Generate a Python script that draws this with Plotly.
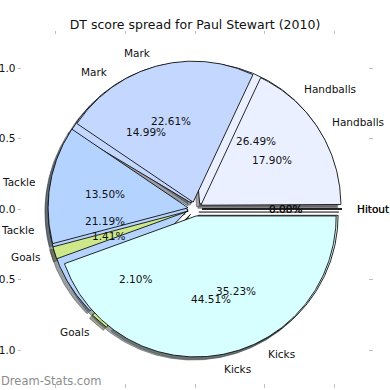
import numpy as np
import plotly.graph_objects as go

# ---- data ----
categories = ['Hitout', 'Handballs', 'Mark', 'Tackle', 'Goals', 'Kicks']
pct_top = [0.08, 17.90, 22.61, 13.50, 1.41, 44.51]      # pie drawn on top
pct_under = [0.00, 26.49, 14.99, 21.19, 2.10, 35.23]    # pie drawn underneath
slice_colors = ['#eef2ff', '#eaf0ff', '#c4d8ff', '#b4d4ff', '#cce88a', '#d8ffff']
title_text = 'DT score spread for Paul Stewart (2010)'
tick_vals = [-1.0, -0.5, 0.0, 0.5, 1.0]

EXPLODE = 0.05
LABEL_DIST = 1.1
PCT_DIST = 0.6
SHADOW_OFF = -0.022
FONT = 'DejaVu Sans'


def pie_geometry(values):
    total = float(sum(values))
    t1 = 0.0
    out = []
    for v in values:
        t2 = t1 + v / total
        tm = np.pi * (t1 + t2)
        cx, cy = EXPLODE * np.cos(tm), EXPLODE * np.sin(tm)
        out.append((t1 * 360.0, t2 * 360.0, tm, cx, cy))
        t1 = t2
    return out


def wedge_xy(cx, cy, a1, a2, r=1.0):
    n = max(2, int(abs(a2 - a1) / 0.75) + 2)
    th = np.radians(np.linspace(a1, a2, n))
    xs = np.concatenate([[cx], cx + r * np.cos(th), [cx]])
    ys = np.concatenate([[cy], cy + r * np.sin(th), [cy]])
    return xs, ys


def hex_rgb(h):
    h = h.lstrip('#')
    return tuple(int(h[i:i + 2], 16) for i in (0, 2, 4))


fig = go.Figure()

pies = [pct_under, pct_top]   # drawn in this order (last on top)
geoms = [pie_geometry(p) for p in pies]

# shadows (all below all wedges)
for geom in geoms:
    for (a1, a2, tm, cx, cy), col in zip(geom, slice_colors):
        r, g, b = hex_rgb(col)
        sc = f'rgba({int(r*0.3)},{int(g*0.3)},{int(b*0.3)},0.5)'
        xs, ys = wedge_xy(cx + SHADOW_OFF, cy + SHADOW_OFF, a1, a2)
        fig.add_trace(go.Scatter(x=xs, y=ys, mode='lines', fill='toself',
                                 fillcolor=sc, line=dict(color=sc, width=1),
                                 hoverinfo='skip', showlegend=False))

# wedges
for geom in geoms:
    for (a1, a2, tm, cx, cy), col in zip(geom, slice_colors):
        xs, ys = wedge_xy(cx, cy, a1, a2)
        fig.add_trace(go.Scatter(x=xs, y=ys, mode='lines', fill='toself',
                                 fillcolor=col, line=dict(color='#111111', width=0.9),
                                 hoverinfo='skip', showlegend=False))

# texts
annotations = []
for vals, geom in zip(pies, geoms):
    for cat, v, (a1, a2, tm, cx, cy) in zip(categories, vals, geom):
        lx = cx + LABEL_DIST * np.cos(tm)
        ly = cy + LABEL_DIST * np.sin(tm)
        annotations.append(dict(x=lx, y=ly, xref='x', yref='y', text=cat,
                                showarrow=False, xanchor='left' if lx > 0 else 'right',
                                yanchor='middle', borderpad=0,
                                font=dict(family=FONT, size=10.5, color='#111111')))
        px = cx + PCT_DIST * np.cos(tm)
        py = cy + PCT_DIST * np.sin(tm)
        annotations.append(dict(x=px, y=py, xref='x', yref='y', text=f'{v:.2f}%',
                                showarrow=False, xanchor='center', yanchor='middle',
                                borderpad=0,
                                font=dict(family=FONT, size=10.5, color='#111111')))

annotations.append(dict(x=-0.0636, y=0.006, xref='paper', yref='paper',
                        text='Dream-Stats.com', showarrow=False, xanchor='left',
                        yanchor='middle', borderpad=0,
                        font=dict(family=FONT, size=11.5, color='#8c8c8c')))

axis_common = dict(showgrid=False, zeroline=False, showline=False,
                   ticks='outside', ticklen=3.5, tickwidth=1, tickcolor='#c0c0c0',
                   mirror='ticks', tickvals=tick_vals, tickformat='.1f',
                   tickfont=dict(family=FONT, size=10.5, color='#111111'),
                   automargin=False, fixedrange=True)

fig.update_layout(
    width=390, height=390,
    margin=dict(l=22, r=22, t=35, b=7),
    paper_bgcolor='white', plot_bgcolor='white',
    title=dict(text=title_text, x=0.5, xref='paper', xanchor='center',
               y=1 - 25 / 390, yref='container', yanchor='middle',
               font=dict(family=FONT, size=12.5, color='#111111')),
    xaxis=dict(range=[-1.236, 1.236], **axis_common),
    yaxis=dict(range=[-1.234, 1.234], **axis_common),
    annotations=annotations,
    showlegend=False,
)

fig.write_html('out.html', config={'displayModeBar': False},
               post_script="document.body.style.margin='0';document.body.style.overflow='hidden';")
